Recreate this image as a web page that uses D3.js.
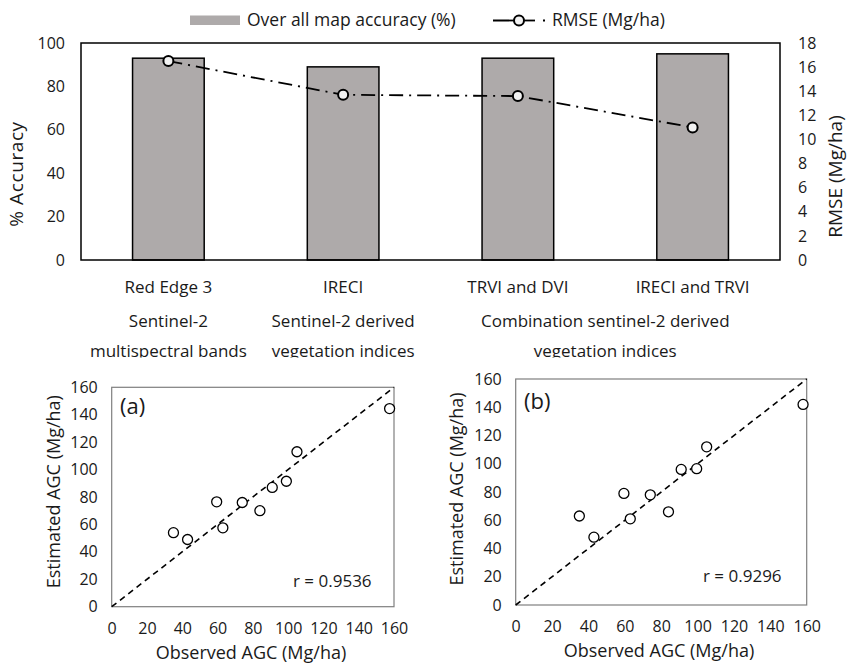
<!DOCTYPE html>
<html>
<head>
<meta charset="utf-8">
<script src="https://cdn.jsdelivr.net/npm/d3@7/dist/d3.min.js"></script>
<style>
  html, body { margin: 0; padding: 0; background: #fff; }
  svg { display: block; font-family: "Open Sans", "Noto Sans", sans-serif; }
</style>
</head>
<body>
<svg id="chart" width="850" height="664"></svg>
<script>
// ---- Top chart data ----
const categories = ["Red Edge 3", "IRECI", "TRVI and DVI", "IRECI and TRVI"];
const accuracy = [93, 89, 93, 95];
const rmse = [16.5, 13.7, 13.6, 11.0];
const accTicks = [0, 20, 40, 60, 80, 100];
const rmseTicks = [0, 2, 4, 6, 8, 10, 12, 14, 16, 18];
const groupLine1 = ["Sentinel-2", "Sentinel-2 derived", "Combination sentinel-2 derived"];
const groupLine2 = ["multispectral bands", "vegetation indices", "vegetation indices"];
const groupFirst = [0, 1, 2];
const groupLast = [0, 1, 3];

// ---- Scatter data ----
const observedA = [35, 43, 59.5, 63, 74, 84, 91, 99, 105, 157.5];
const estimatedA = [54, 49, 76.5, 57.5, 76, 70, 87, 91.5, 113, 144.5];
const observedB = [35, 43, 59.5, 63, 74, 84, 91, 99.5, 105, 158];
const estimatedB = [63, 48, 79, 61, 78, 66, 96, 96.5, 112, 142];
const agcTicks = [0, 20, 40, 60, 80, 100, 120, 140, 160];
const rLabels = ["r = 0.9536", "r = 0.9296"];
const panelLabels = ["(a)", "(b)"];

const svg = d3.select("#chart");
const txt = "#1a1a1a";

// ================= TOP CHART =================
const L = 81, R = 780, T = 43, B = 260;
const x = d3.scaleBand().domain(categories).range([L, R]).padding(0);
const yL = d3.scaleLinear().domain([0, 100]).range([B, T]);
const yR = d3.scaleLinear().domain([0, 18]).range([B, T]);
const barW = x.bandwidth() * 0.41;

// bars
svg.append("g").selectAll("rect").data(categories).join("rect")
  .attr("x", (d) => x(d) + x.bandwidth() / 2 - barW / 2)
  .attr("y", (d, i) => yL(accuracy[i]))
  .attr("width", barW)
  .attr("height", (d, i) => B - yL(accuracy[i]))
  .attr("fill", "#aeaaaa")
  .attr("stroke", "#000")
  .attr("stroke-width", 1.5);

// frame
svg.append("rect").attr("x", L).attr("y", T).attr("width", R - L).attr("height", B - T)
  .attr("fill", "none").attr("stroke", "#000").attr("stroke-width", 1.5);

// RMSE line
const line = d3.line().x((d, i) => x(categories[i]) + x.bandwidth() / 2).y((d) => yR(d));
svg.append("path").datum(rmse).attr("d", line)
  .attr("fill", "none").attr("stroke", "#000").attr("stroke-width", 1.8)
  .attr("stroke-dasharray", "14,6,2,6");
svg.append("g").selectAll("circle").data(rmse).join("circle")
  .attr("cx", (d, i) => x(categories[i]) + x.bandwidth() / 2)
  .attr("cy", (d) => yR(d))
  .attr("r", 5)
  .attr("fill", "#f2f2f2").attr("stroke", "#000").attr("stroke-width", 2);

// axes
const axL = svg.append("g").attr("transform", `translate(${L},0)`)
  .call(d3.axisLeft(yL).tickValues(accTicks).tickSize(0).tickPadding(16));
const axR = svg.append("g").attr("transform", `translate(${R},0)`)
  .call(d3.axisRight(yR).tickValues(rmseTicks).tickSize(0).tickPadding(18));
const axB = svg.append("g").attr("transform", `translate(0,${B})`)
  .call(d3.axisBottom(x).tickSize(0).tickPadding(21));
[axL, axR, axB].forEach((a) => {
  a.select(".domain").remove();
  a.selectAll("text").attr("fill", txt).style("font-family", "'Open Sans', sans-serif");
});
axL.selectAll("text").style("font-size", "16px");
axR.selectAll("text").style("font-size", "16px");
axB.selectAll("text").style("font-size", "17px");

// group labels (clipped at the bottom as in the reference)
svg.append("clipPath").attr("id", "topclip").append("rect")
  .attr("x", 0).attr("y", 0).attr("width", 850).attr("height", 357.5);
const gl = svg.append("g").attr("clip-path", "url(#topclip)");
groupLine1.forEach((t, i) => {
  const cx = (x(categories[groupFirst[i]]) + x(categories[groupLast[i]]) + x.bandwidth()) / 2;
  gl.append("text").attr("x", cx).attr("y", 327).attr("text-anchor", "middle")
    .attr("fill", txt).style("font-size", "17px").text(t);
  gl.append("text").attr("x", cx).attr("y", 357).attr("text-anchor", "middle")
    .attr("fill", txt).style("font-size", "17px").text(groupLine2[i]);
});

// axis titles
svg.append("text").attr("transform", "translate(22.5,174) rotate(-90)")
  .attr("text-anchor", "middle").attr("fill", txt).style("font-size", "19px")
  .style("letter-spacing", "0.6px").text("% Accuracy");
svg.append("text").attr("transform", "translate(842,176.5) rotate(-90)")
  .attr("text-anchor", "middle").attr("fill", txt).style("font-size", "19px")
  .text("RMSE (Mg/ha)");

// legend
svg.append("rect").attr("x", 190).attr("y", 15.5).attr("width", 50).attr("height", 9.5).attr("fill", "#aeaaaa");
svg.append("text").attr("x", 247).attr("y", 26).attr("fill", txt).style("font-size", "17.5px")
  .text("Over all map accuracy (%)");
svg.append("line").attr("x1", 493).attr("x2", 545).attr("y1", 20.5).attr("y2", 20.5)
  .attr("stroke", "#000").attr("stroke-width", 1.8).attr("stroke-dasharray", "15,35,2,10");
svg.append("line").attr("x1", 508).attr("x2", 535).attr("y1", 20.5).attr("y2", 20.5)
  .attr("stroke", "#000").attr("stroke-width", 1.8);
svg.append("circle").attr("cx", 519).attr("cy", 20.5).attr("r", 5)
  .attr("fill", "#f2f2f2").attr("stroke", "#000").attr("stroke-width", 2);
svg.append("text").attr("x", 552).attr("y", 26).attr("fill", txt).style("font-size", "17.5px")
  .text("RMSE (Mg/ha)");

// ================= SCATTER PANELS =================
const panels = [
  { obs: observedA, est: estimatedA, x0: 111.7, x1: 394, y0: 606.7, y1: 387.3,
    lab: [120, 414], r: [293, 587], yt: [60, 491.7], xt: [251, 659] },
  { obs: observedB, est: estimatedB, x0: 515.7, x1: 806.7, y0: 605, y1: 379,
    lab: [524, 409], r: [703, 582], yt: [463, 489], xt: [659, 657] }
];
panels.forEach((p, k) => {
  const sx = d3.scaleLinear().domain([0, 160]).range([p.x0, p.x1]);
  const sy = d3.scaleLinear().domain([0, 160]).range([p.y0, p.y1]);
  const g = svg.append("g");
  g.append("rect").attr("x", p.x0).attr("y", p.y1).attr("width", p.x1 - p.x0).attr("height", p.y0 - p.y1)
    .attr("fill", "none").attr("stroke", "#7f7f7f").attr("stroke-width", 1.2);
  // 1:1 line
  g.append("line").attr("x1", sx(0)).attr("y1", sy(0)).attr("x2", sx(160)).attr("y2", sy(160))
    .attr("stroke", "#000").attr("stroke-width", 1.6).attr("stroke-dasharray", "6,4.5");
  g.append("g").selectAll("circle").data(p.obs).join("circle")
    .attr("cx", (d) => sx(d)).attr("cy", (d, i) => sy(p.est[i])).attr("r", 5)
    .attr("fill", "#fff").attr("stroke", "#000").attr("stroke-width", 1.3);
  const ax = g.append("g").attr("transform", `translate(${p.x0},0)`)
    .call(d3.axisLeft(sy).tickValues(agcTicks).tickSize(0).tickPadding(14));
  const ab = g.append("g").attr("transform", `translate(0,${p.y0})`)
    .call(d3.axisBottom(sx).tickValues(agcTicks).tickSize(0).tickPadding(16));
  [ax, ab].forEach((a) => {
    a.select(".domain").remove();
    a.selectAll("text").attr("fill", txt).style("font-size", "16px")
      .style("font-family", "'Open Sans', sans-serif");
  });
  g.append("text").attr("x", p.lab[0]).attr("y", p.lab[1]).attr("fill", txt)
    .style("font-size", "22px").text(panelLabels[k]);
  g.append("text").attr("x", p.r[0]).attr("y", p.r[1]).attr("fill", txt)
    .style("font-size", "17px").text(rLabels[k]);
  g.append("text").attr("transform", `translate(${p.yt[0]},${p.yt[1]}) rotate(-90)`)
    .attr("text-anchor", "middle").attr("fill", txt).style("font-size", "18px")
    .text("Estimated AGC (Mg/ha)");
  g.append("text").attr("x", p.xt[0]).attr("y", p.xt[1]).attr("text-anchor", "middle")
    .attr("fill", txt).style("font-size", "18px").text("Observed AGC (Mg/ha)");
});
</script>
</body>
</html>
